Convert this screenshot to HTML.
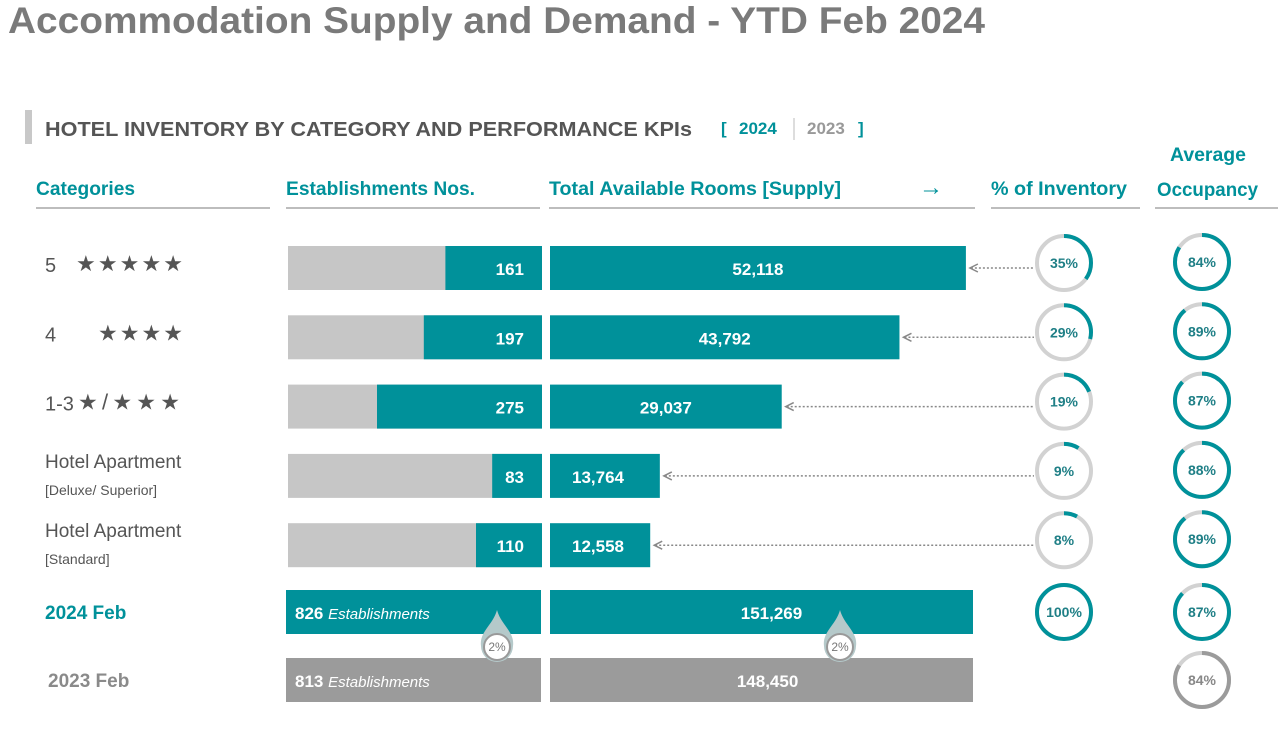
<!DOCTYPE html>
<html><head><meta charset="utf-8"><style>
body{margin:0;width:1285px;height:739px;background:#fff;overflow:hidden;font-family:"Liberation Sans",sans-serif}
svg{display:block}
</style></head><body>
<svg id="c" width="1285" height="739" font-family="Liberation Sans, sans-serif">
<text x="8" y="33" font-size="37" font-weight="bold" fill="#7a7a7a" textLength="977" lengthAdjust="spacingAndGlyphs">Accommodation Supply and Demand - YTD Feb 2024</text>
<rect x="25" y="110" width="7" height="34" fill="#c8c8c8"/>
<text x="45" y="136" font-size="20" font-weight="bold" fill="#555" textLength="647" lengthAdjust="spacingAndGlyphs">HOTEL INVENTORY BY CATEGORY AND PERFORMANCE KPIs</text>
<g font-size="17" font-weight="bold">
<text x="721" y="134" fill="#00919a">[</text>
<text x="739" y="134" fill="#00919a">2024</text>
<line x1="794" y1="118" x2="794" y2="140" stroke="#bbb"/>
<text x="807" y="134" fill="#999">2023</text>
<text x="858" y="134" fill="#00919a">]</text>
</g>
<g font-size="19" font-weight="bold" fill="#00919a">
<text x="36" y="195" textLength="99" lengthAdjust="spacingAndGlyphs">Categories</text>
<text x="286" y="195" textLength="189" lengthAdjust="spacingAndGlyphs">Establishments Nos.</text>
<text x="549" y="195" textLength="292" lengthAdjust="spacingAndGlyphs">Total Available Rooms [Supply]</text>
<text x="919" y="195" font-size="24">→</text>
<text x="991" y="195" textLength="136" lengthAdjust="spacingAndGlyphs">% of Inventory</text>
<text x="1170" y="161" textLength="76" lengthAdjust="spacingAndGlyphs">Average</text>
<text x="1157" y="196" textLength="101" lengthAdjust="spacingAndGlyphs">Occupancy</text>
</g>
<g stroke="#bdbdbd" stroke-width="2">
<line x1="36" y1="208" x2="270" y2="208"/><line x1="286" y1="208" x2="540" y2="208"/>
<line x1="549" y1="208" x2="975" y2="208"/><line x1="991" y1="208" x2="1140" y2="208"/>
<line x1="1155" y1="208" x2="1278" y2="208"/>
</g>
<g id="rows"></g>
</svg>
<script>
const categories=["5","4","1-3","Hotel Apartment","Hotel Apartment"];
const catSub=["★★★★★","★★★★","★/★★★","[Deluxe/ Superior]","[Standard]"];
const establishments=[161,197,275,83,110];
const rooms=[52118,43792,29037,13764,12558];
const inventoryPct=[35,29,19,9,8];
const occupancy=[84,89,87,88,89];
const totalYears=["2024 Feb","2023 Feb"];
const totalEstab=[826,813];
const totalRooms=[151269,148450];
const totalInvPct=[100];
const totalOcc=[87,84];
const changePct=["2%","2%"];

const NS="http://www.w3.org/2000/svg";
const g=document.getElementById('rows');
const TEAL="#00919a";
function mk(t,a,p){const e=document.createElementNS(NS,t);for(const k in a)e.setAttribute(k,a[k]);(p||g).appendChild(e);return e;}
function txt(x,y,s,a,p){const e=mk('text',Object.assign({x:x,y:y},a),p);e.textContent=s;return e;}
const rowTop=i=>246+i*69.3;
const estW=v=>v*0.6;
const roomW=v=>v*0.00798;
const totRoomW=v=>v*423/151269;
const starX=[76,98,78],starLen=[107,85,102];
function donut(cx,cy,pct,col,lab,tcol){
  const r=27,C=2*Math.PI*r;
  const bg=mk('circle',{cx:cx,cy:cy,r:r,fill:'none',stroke:'#d2d2d2','stroke-width':4});
  
  
  const a=mk('circle',{cx:cx,cy:cy,r:r,fill:'none',stroke:col,'stroke-width':4,'stroke-dasharray':(C*pct/100)+' '+C,transform:`rotate(-90 ${cx} ${cy})`});
  
  
  const t=txt(cx,cy+5,lab,{'text-anchor':'middle','font-size':14,'font-weight':'bold',fill:tcol});
  
  
}
for(let i=0;i<categories.length;i++){
  const y=rowTop(i),cy=y+22;
  if(i<3){
    const t=txt(45,cy+4,categories[i],{'font-size':20,fill:'#555'});
    
    
    const s=txt(starX[i],cy+3,catSub[i],{'font-size':22,fill:'#555',textLength:starLen[i],lengthAdjust:'spacing'});
    
    
  } else {
    const t=txt(45,cy-8,categories[i],{'font-size':19,fill:'#555'});
    
    
    const s=txt(45,cy+19,catSub[i],{'font-size':14,fill:'#555'});
    
    
  }
  const bg=mk('rect',{x:288,y:y,width:254,height:44,fill:'#c6c6c6'});
  
  
  const w=estW(establishments[i]);
  const b=mk('rect',{x:542-w,y:y,width:w,height:44,fill:TEAL});
  
  
  const bt=txt(524,cy+7,String(establishments[i]),{'text-anchor':'end','font-size':17,'font-weight':'bold',fill:'#fff'});
  
  
  const rw=roomW(rooms[i]);
  const rb=mk('rect',{x:550,y:y,width:rw,height:44,fill:TEAL});
  
  
  const rt=txt(rw>200?550+rw/2:572,cy+7,rooms[i].toLocaleString('en-US'),{'text-anchor':rw>200?'middle':'start','font-size':17,'font-weight':'bold',fill:'#fff'});
  
  
  const ln=mk('line',{x1:550+rw+5,y1:cy,x2:1034,y2:cy,stroke:'#888','stroke-width':1.5,'stroke-dasharray':'2 2'});
  
  
  const ah=mk('path',{d:`M${550+rw+12} ${cy-4} L${550+rw+4} ${cy} L${550+rw+12} ${cy+4}`,fill:'none',stroke:'#888','stroke-width':1.5});
  
  
  donut(1064,cy-5,inventoryPct[i],TEAL,inventoryPct[i]+'%','#1f7f86');
  donut(1202,cy-6,occupancy[i],TEAL,occupancy[i]+'%','#1f7f86');
}
for(let j=0;j<2;j++){
  const y=590+j*68,cy=y+22,col=j==0?TEAL:'#9b9b9b';
  const yl=txt(j==0?45:48,cy+7,totalYears[j],{'font-size':19,'font-weight':'bold',fill:j==0?TEAL:'#8a8a8a'});
  
  
  const eb=mk('rect',{x:286,y:y,width:255,height:44,fill:col});
  
  
  const et=txt(295,cy+7,'',{'font-size':17,fill:'#fff'});
  
  
  const t1=mk('tspan',{'font-weight':'bold'},et);t1.textContent=totalEstab[j]+' ';
  const t2=mk('tspan',{'font-style':'italic','font-size':15},et);t2.textContent='Establishments';
  const rb=mk('rect',{x:550,y:y,width:423,height:44,fill:col});
  
  
  const rt=txt(550+totRoomW(totalRooms[j])/2+10,cy+7,totalRooms[j].toLocaleString('en-US'),{'text-anchor':'middle','font-size':17,'font-weight':'bold',fill:'#fff'});
  
  
  if(j==0) donut(1064,cy,totalInvPct[0],TEAL,totalInvPct[0]+'%','#1f7f86');
  donut(1202,cy,totalOcc[j],j==0?TEAL:'#9b9b9b',totalOcc[j]+'%',j==0?'#1f7f86':'#888');
}
[497,840].forEach((x,k)=>{
  const d=mk('path',{d:`M${x} 610 C${x+4} 625 ${x+18} 632 ${x+16} 646 A16 16 0 1 1 ${x-16} 646 C${x-18} 632 ${x-4} 625 ${x} 610Z`,fill:'#b5c9ca'});
  
  
  const c=mk('circle',{cx:x,cy:647,r:13,fill:'#fff',stroke:'#999','stroke-width':2});
  
  
  const t=txt(x,651,changePct[k],{'text-anchor':'middle','font-size':12,fill:'#777'});
  
  
});
</script>
</body></html>
